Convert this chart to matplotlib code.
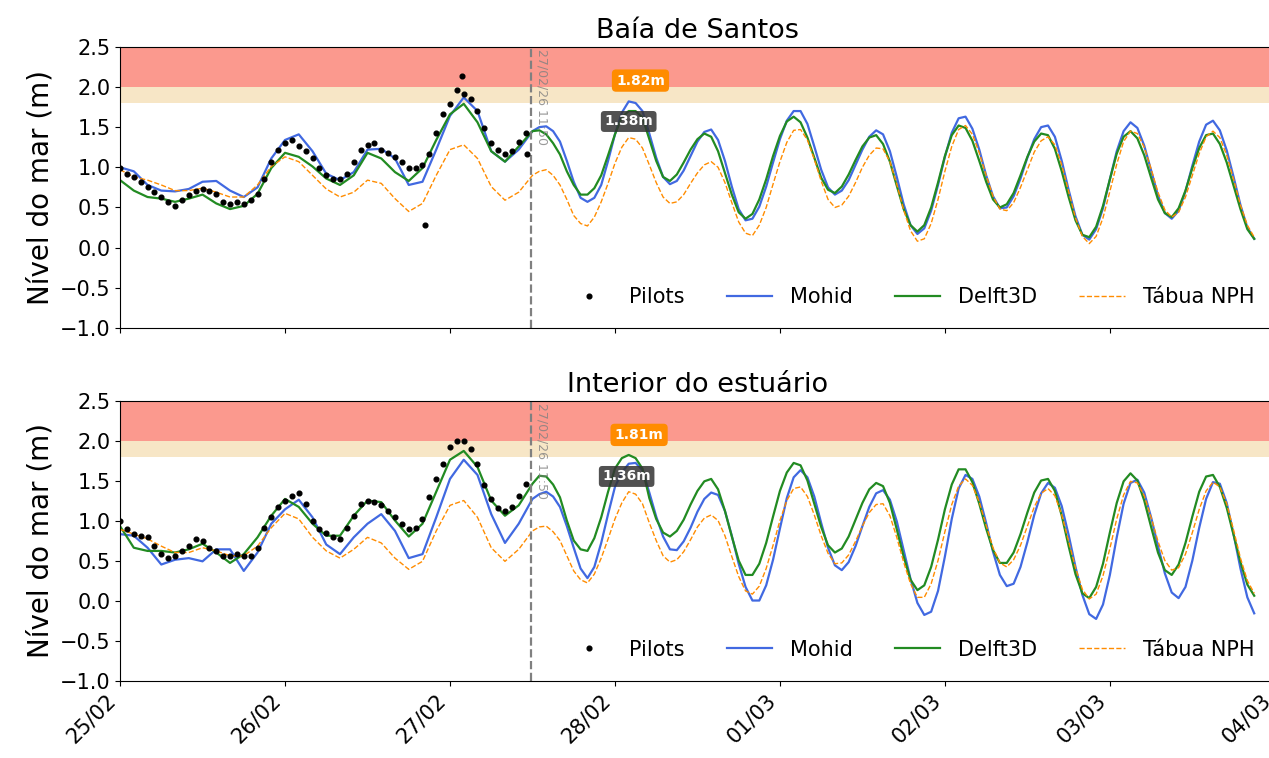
import matplotlib
matplotlib.use("Agg")
import matplotlib.pyplot as plt
import matplotlib.dates as mdates
import numpy as np
import pandas as pd

start = pd.Timestamp("2026-02-25 00:00")
end = pd.Timestamp("2026-03-04 00:00")
cut = pd.Timestamp("2026-02-27 11:50")

# model output: every 2 h until 27/02 10:00, then hourly (hours from 25/02 00:00)
model_hours = np.concatenate([np.arange(0, 60, 2), np.arange(60, 166)])

santos_mohid = [1.00, 0.95, 0.78, 0.71, 0.70, 0.73, 0.82, 0.83, 0.71, 0.63, 0.75, 1.11, 1.34, 1.41, 1.20,
                0.92, 0.84, 0.94, 1.22, 1.23, 1.11, 0.78, 0.82, 1.22, 1.64, 1.87, 1.70, 1.20, 1.07, 1.22,
                1.45, 1.50, 1.51, 1.45, 1.32, 1.08, 0.82, 0.62, 0.57, 0.62, 0.78, 1.08, 1.41, 1.68, 1.82,
                1.80, 1.70, 1.42, 1.12, 0.88, 0.79, 0.83, 0.96, 1.14, 1.32, 1.44, 1.47, 1.34, 1.08, 0.76,
                0.48, 0.34, 0.36, 0.51, 0.76, 1.06, 1.35, 1.58, 1.70, 1.70, 1.54, 1.26, 0.97, 0.75, 0.66,
                0.71, 0.84, 1.03, 1.22, 1.38, 1.46, 1.41, 1.20, 0.88, 0.54, 0.28, 0.17, 0.24, 0.46, 0.78,
                1.13, 1.43, 1.61, 1.63, 1.48, 1.22, 0.90, 0.64, 0.49, 0.50, 0.64, 0.86, 1.12, 1.35, 1.50,
                1.52, 1.38, 1.08, 0.72, 0.39, 0.16, 0.10, 0.23, 0.49, 0.85, 1.20, 1.45, 1.56, 1.49, 1.27,
                0.96, 0.65, 0.43, 0.36, 0.46, 0.70, 1.02, 1.32, 1.53, 1.58, 1.46, 1.21, 0.88, 0.53, 0.25,
                0.11]
santos_delft = [0.84, 0.71, 0.63, 0.61, 0.57, 0.61, 0.66, 0.55, 0.48, 0.52, 0.67, 0.99, 1.18, 1.13, 1.01,
                0.86, 0.78, 0.90, 1.18, 1.11, 0.94, 0.83, 0.99, 1.34, 1.66, 1.79, 1.56, 1.20, 1.07, 1.26,
                1.45, 1.46, 1.41, 1.30, 1.16, 0.95, 0.78, 0.66, 0.66, 0.74, 0.90, 1.15, 1.41, 1.62, 1.70,
                1.70, 1.62, 1.35, 1.08, 0.88, 0.83, 0.91, 1.06, 1.22, 1.35, 1.42, 1.38, 1.20, 0.93, 0.66,
                0.44, 0.36, 0.42, 0.60, 0.85, 1.14, 1.39, 1.57, 1.63, 1.56, 1.37, 1.12, 0.87, 0.72, 0.68,
                0.76, 0.91, 1.09, 1.26, 1.37, 1.40, 1.29, 1.07, 0.77, 0.48, 0.28, 0.20, 0.28, 0.50, 0.81,
                1.14, 1.40, 1.52, 1.49, 1.33, 1.08, 0.82, 0.60, 0.50, 0.54, 0.68, 0.90, 1.13, 1.32, 1.42,
                1.40, 1.23, 0.95, 0.63, 0.34, 0.16, 0.13, 0.26, 0.52, 0.85, 1.17, 1.38, 1.45, 1.36, 1.15,
                0.87, 0.60, 0.43, 0.38, 0.49, 0.71, 0.99, 1.24, 1.40, 1.42, 1.29, 1.06, 0.77, 0.48, 0.23,
                0.11]
santos_nph = [0.97, 0.88, 0.84, 0.78, 0.71, 0.71, 0.74, 0.69, 0.63, 0.63, 0.78, 1.01, 1.13, 1.07, 0.90,
              0.73, 0.63, 0.69, 0.84, 0.80, 0.61, 0.45, 0.55, 0.90, 1.22, 1.28, 1.11, 0.76, 0.59, 0.69,
              0.90, 0.95, 0.97, 0.90, 0.78, 0.60, 0.40, 0.30, 0.27, 0.38, 0.57, 0.80, 1.05, 1.25, 1.37,
              1.35, 1.24, 1.03, 0.81, 0.63, 0.55, 0.57, 0.66, 0.80, 0.93, 1.03, 1.07, 1.00, 0.81, 0.56,
              0.32, 0.18, 0.15, 0.28, 0.50, 0.79, 1.07, 1.31, 1.46, 1.47, 1.34, 1.10, 0.83, 0.60, 0.50,
              0.53, 0.64, 0.81, 1.00, 1.15, 1.24, 1.23, 1.07, 0.79, 0.47, 0.21, 0.08, 0.11, 0.30, 0.60,
              0.95, 1.26, 1.47, 1.52, 1.41, 1.18, 0.90, 0.64, 0.48, 0.46, 0.56, 0.75, 0.97, 1.19, 1.33,
              1.38, 1.28, 1.03, 0.70, 0.37, 0.14, 0.05, 0.14, 0.37, 0.70, 1.04, 1.32, 1.45, 1.42, 1.25,
              0.98, 0.69, 0.47, 0.38, 0.44, 0.63, 0.90, 1.17, 1.38, 1.45, 1.37, 1.15, 0.85, 0.53, 0.28,
              0.13]

estuario_mohid = [0.83, 0.81, 0.66, 0.45, 0.51, 0.53, 0.49, 0.64, 0.64, 0.37, 0.60, 0.96, 1.14, 1.26, 1.04,
                  0.70, 0.58, 0.79, 0.96, 1.08, 0.87, 0.53, 0.58, 1.04, 1.52, 1.76, 1.57, 1.08, 0.72, 0.96,
                  1.27, 1.33, 1.36, 1.30, 1.17, 0.93, 0.66, 0.40, 0.28, 0.42, 0.72, 1.08, 1.42, 1.60, 1.71,
                  1.72, 1.63, 1.35, 1.05, 0.80, 0.64, 0.63, 0.74, 0.91, 1.11, 1.27, 1.35, 1.32, 1.12, 0.81,
                  0.46, 0.17, 0.00, 0.00, 0.19, 0.51, 0.90, 1.28, 1.54, 1.63, 1.54, 1.30, 0.97, 0.66, 0.44,
                  0.38, 0.48, 0.68, 0.93, 1.17, 1.34, 1.38, 1.26, 0.99, 0.63, 0.27, -0.03, -0.18, -0.14, 0.12,
                  0.55, 1.02, 1.40, 1.57, 1.52, 1.30, 0.97, 0.61, 0.32, 0.18, 0.21, 0.42, 0.73, 1.07, 1.34,
                  1.47, 1.41, 1.18, 0.82, 0.42, 0.07, -0.17, -0.23, -0.05, 0.32, 0.79, 1.21, 1.47, 1.51, 1.35,
                  1.04, 0.68, 0.34, 0.10, 0.03, 0.17, 0.50, 0.91, 1.27, 1.48, 1.46, 1.22, 0.83, 0.40, 0.04,
                  -0.16]
estuario_delft = [0.93, 0.66, 0.62, 0.62, 0.60, 0.64, 0.71, 0.60, 0.47, 0.58, 0.79, 1.06, 1.27, 1.17, 0.96,
                  0.81, 0.81, 1.06, 1.25, 1.23, 1.00, 0.80, 0.96, 1.36, 1.76, 1.87, 1.67, 1.25, 1.06, 1.19,
                  1.46, 1.56, 1.55, 1.45, 1.29, 1.00, 0.75, 0.64, 0.62, 0.78, 1.04, 1.36, 1.65, 1.78, 1.82,
                  1.78, 1.65, 1.28, 1.02, 0.85, 0.80, 0.87, 1.01, 1.20, 1.37, 1.49, 1.52, 1.39, 1.12, 0.80,
                  0.50, 0.32, 0.32, 0.46, 0.72, 1.05, 1.37, 1.60, 1.72, 1.69, 1.50, 1.21, 0.92, 0.69, 0.60,
                  0.65, 0.80, 1.01, 1.22, 1.39, 1.47, 1.43, 1.22, 0.89, 0.55, 0.26, 0.13, 0.19, 0.42, 0.76,
                  1.14, 1.45, 1.64, 1.64, 1.48, 1.21, 0.90, 0.63, 0.47, 0.47, 0.60, 0.83, 1.10, 1.35, 1.50,
                  1.52, 1.37, 1.06, 0.68, 0.33, 0.09, 0.03, 0.17, 0.46, 0.85, 1.22, 1.49, 1.59, 1.50, 1.25,
                  0.92, 0.60, 0.38, 0.32, 0.45, 0.72, 1.05, 1.36, 1.55, 1.57, 1.42, 1.16, 0.82, 0.48, 0.20,
                  0.06]
estuario_nph = [0.89, 0.83, 0.77, 0.68, 0.60, 0.60, 0.66, 0.62, 0.56, 0.56, 0.68, 0.91, 1.09, 1.02, 0.79,
                0.62, 0.53, 0.64, 0.79, 0.72, 0.53, 0.39, 0.49, 0.87, 1.19, 1.25, 1.04, 0.66, 0.49, 0.64,
                0.87, 0.92, 0.93, 0.86, 0.75, 0.56, 0.37, 0.26, 0.22, 0.33, 0.53, 0.77, 1.02, 1.22, 1.36,
                1.33, 1.21, 0.97, 0.75, 0.56, 0.48, 0.51, 0.61, 0.76, 0.92, 1.03, 1.07, 1.00, 0.81, 0.55,
                0.30, 0.12, 0.08, 0.18, 0.40, 0.69, 1.00, 1.25, 1.40, 1.42, 1.30, 1.07, 0.81, 0.59, 0.46,
                0.47, 0.57, 0.74, 0.93, 1.10, 1.20, 1.21, 1.06, 0.79, 0.48, 0.21, 0.04, 0.04, 0.21, 0.50,
                0.86, 1.20, 1.43, 1.52, 1.44, 1.23, 0.94, 0.66, 0.47, 0.42, 0.51, 0.69, 0.93, 1.17, 1.34,
                1.40, 1.31, 1.07, 0.74, 0.41, 0.14, 0.02, 0.08, 0.31, 0.65, 1.02, 1.32, 1.49, 1.47, 1.31,
                1.04, 0.74, 0.50, 0.38, 0.41, 0.58, 0.85, 1.14, 1.37, 1.48, 1.42, 1.21, 0.88, 0.53, 0.25,
                0.09]

# pilots observations, hourly up to the cut time
pilot_hours = np.arange(0, 60)
santos_pilots = [0.99, 0.92, 0.88, 0.82, 0.75, 0.69, 0.63, 0.57, 0.52, 0.59,
                 0.65, 0.71, 0.73, 0.71, 0.67, 0.57, 0.54, 0.57, 0.54, 0.59,
                 0.67, 0.86, 1.07, 1.22, 1.30, 1.34, 1.26, 1.20, 1.11, 0.99,
                 0.90, 0.86, 0.86, 0.92, 1.07, 1.22, 1.28, 1.30, 1.22, 1.18,
                 1.13, 1.07, 0.99, 0.99, 1.03, 1.16, 1.43, 1.66, 1.79, 1.96,
                 1.91, 1.85, 1.70, 1.49, 1.30, 1.22, 1.16, 1.20, 1.32, 1.43]
santos_outlier_hours = [44.4, 49.7, 59.2]
santos_outliers = [0.28, 2.14, 1.17]
estuario_pilots = [1.00, 0.89, 0.83, 0.81, 0.79, 0.68, 0.58, 0.53, 0.56, 0.62,
                   0.68, 0.77, 0.75, 0.66, 0.62, 0.56, 0.56, 0.58, 0.56, 0.56,
                   0.66, 0.91, 1.04, 1.17, 1.25, 1.31, 1.34, 1.21, 1.00, 0.89,
                   0.85, 0.79, 0.77, 0.91, 1.06, 1.21, 1.25, 1.23, 1.19, 1.12,
                   1.04, 0.96, 0.89, 0.91, 1.02, 1.29, 1.52, 1.71, 1.92, 1.99,
                   2.00, 1.90, 1.71, 1.44, 1.27, 1.16, 1.12, 1.17, 1.31, 1.46]

# forecast peaks on 28/02 (max of models, tide table)
santos_peak = {"time": 74.5, "max": 1.82, "nph_time": 74.0, "nph": 1.38}
estuario_peak = {"time": 74.3, "max": 1.81, "nph_time": 73.7, "nph": 1.36}


def to_time(h):
    return start + pd.to_timedelta(np.asarray(h, dtype=float), unit="h")


def draw_panel(ax, title, pilots, mohid, delft, nph, peak, out_h=None, out_v=None):
    ax.axhspan(2.0, 2.5, color="salmon", alpha=0.8, lw=0)
    ax.axhspan(1.8, 2.0, color="wheat", alpha=0.75, lw=0)
    ax.plot(to_time(pilot_hours), pilots, "o", color="black", ms=3.4, label="Pilots", zorder=4)
    if out_h is not None:
        ax.plot(to_time(out_h), out_v, "o", color="black", ms=3.4, zorder=4)
    ax.plot(to_time(model_hours), mohid, color="royalblue", lw=1.6, label="Mohid")
    ax.plot(to_time(model_hours), delft, color="forestgreen", lw=1.6, label="Delft3D")
    ax.plot(to_time(model_hours), nph, "--", color="darkorange", lw=1.0, label="Tábua NPH")
    ax.axvline(cut, color="gray", ls="--", lw=1.6)
    ax.text(cut + pd.Timedelta(minutes=35), 2.47, "27/02/26 11:50", rotation=-90,
            color="gray", alpha=0.8, fontsize=9, va="top", ha="left")
    ax.annotate(f"{peak['max']:.2f}m", (to_time([peak["time"]])[0], peak["max"]),
                xytext=(6, 15), textcoords="offset points", ha="center", va="center",
                color="white", fontsize=10, fontweight="bold",
                bbox=dict(boxstyle="round,pad=0.3", fc="darkorange", ec="none"))
    ax.annotate(f"{peak['nph']:.2f}m", (to_time([peak["nph_time"]])[0], peak["nph"]),
                xytext=(0, 11), textcoords="offset points", ha="center", va="center",
                color="white", fontsize=10, fontweight="bold",
                bbox=dict(boxstyle="round,pad=0.25", fc="#333333", ec="none", alpha=0.85))
    ax.set_ylim(-1.0, 2.5)
    ax.set_yticks(np.arange(-1.0, 2.51, 0.5))
    ax.set_xlim(start, end)
    ax.set_title(title, fontsize=19.5)
    ax.set_ylabel("Nível do mar (m)", fontsize=20)
    ax.tick_params(labelsize=15)
    ax.spines["right"].set_visible(False)
    ax.legend(loc="lower right", ncol=4, frameon=False, fontsize=15, handlelength=2.2,
              handletextpad=0.85, columnspacing=2.0, borderaxespad=0.6)


fig = plt.figure(figsize=(12.69, 7.58), dpi=100)
ax1 = fig.add_axes([0.0946, 0.5673, 0.910, 0.371])
ax2 = fig.add_axes([0.0946, 0.1022, 0.910, 0.3694], sharex=ax1)

draw_panel(ax1, "Baía de Santos", santos_pilots, santos_mohid, santos_delft, santos_nph,
           santos_peak, santos_outlier_hours, santos_outliers)
draw_panel(ax2, "Interior do estuário", estuario_pilots, estuario_mohid, estuario_delft,
           estuario_nph, estuario_peak)

ax2.xaxis.set_major_locator(mdates.DayLocator())
ax2.xaxis.set_major_formatter(mdates.DateFormatter("%d/%m"))
plt.setp(ax1.get_xticklabels(), visible=False)
plt.setp(ax2.get_xticklabels(), rotation=45, ha="right")

fig.savefig("out.png", dpi=100)
